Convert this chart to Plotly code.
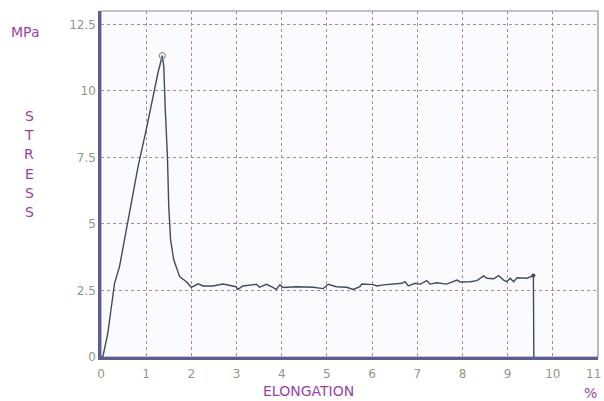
import plotly.graph_objects as go

elongation = [0.0, 0.04, 0.15, 0.23, 0.30, 0.41, 0.52, 0.59, 0.74, 0.82, 1.0, 1.15, 1.26, 1.357,
              1.39, 1.42, 1.47, 1.50, 1.54, 1.61, 1.74, 1.89, 2.0, 2.15, 2.26, 2.48, 2.70, 2.99,
              3.03, 3.14, 3.44, 3.51, 3.66, 3.77, 3.88, 3.96, 4.03, 4.33, 4.70, 4.92, 5.03, 5.21,
              5.44, 5.58, 5.73, 5.77, 6.03, 6.10, 6.25, 6.66, 6.73, 6.80, 6.95, 7.06, 7.21, 7.28,
              7.43, 7.65, 7.88, 7.95, 8.17, 8.32, 8.47, 8.54, 8.69, 8.80, 8.91, 8.98, 9.06, 9.13,
              9.21, 9.43, 9.57, 9.58]
stress = [0.0, 0.0, 0.89, 2.0, 2.77, 3.4, 4.4, 5.15, 6.53, 7.15, 8.53, 9.79, 10.67, 11.32,
          10.9, 9.4, 7.53, 5.65, 4.4, 3.65, 3.02, 2.83, 2.62, 2.75, 2.67, 2.67, 2.74, 2.64,
          2.54, 2.67, 2.73, 2.62, 2.73, 2.64, 2.54, 2.71, 2.61, 2.64, 2.62, 2.57, 2.73, 2.64,
          2.62, 2.54, 2.64, 2.74, 2.72, 2.67, 2.71, 2.77, 2.83, 2.67, 2.77, 2.73, 2.87, 2.74,
          2.79, 2.74, 2.89, 2.82, 2.83, 2.87, 3.05, 2.96, 2.94, 3.06, 2.89, 2.83, 2.96, 2.83,
          2.98, 2.96, 3.06, 0.0]

x_ticks = [0, 1, 2, 3, 4, 5, 6, 7, 8, 9, 10, 11]
y_ticks = [0, 2.5, 5, 7.5, 10, 12.5]
y_tick_text = ["0", "2.5", "5", "7.5", "10", "12.5"]

peak_i = stress.index(max(stress))
end_i = len(stress) - 2

FONT = "DejaVu Sans"
TICK_COLOR = "#8c9a86"
TITLE_COLOR = "#9a3fa6"
GRID_COLOR = "#a886a8"
AXIS_COLOR = "#5c5c96"
LINE_COLOR = "#3e4a66"

fig = go.Figure()
fig.add_trace(go.Scatter(x=elongation, y=stress, mode="lines",
                         line=dict(color=LINE_COLOR, width=1.4), showlegend=False,
                         hoverinfo="skip"))
fig.add_trace(go.Scatter(x=[elongation[peak_i]], y=[stress[peak_i]], mode="markers",
                         marker=dict(symbol="circle-open", size=6, color="#8a9a84",
                                     line=dict(width=1.2)), showlegend=False, hoverinfo="skip"))
fig.add_trace(go.Scatter(x=[elongation[end_i]], y=[stress[end_i]], mode="markers",
                         marker=dict(symbol="circle", size=4, color=LINE_COLOR), showlegend=False,
                         hoverinfo="skip"))

fig.update_xaxes(range=[0, 11], tickvals=x_ticks[:-1], ticks="", showline=True,
                 linecolor=AXIS_COLOR, linewidth=2.5, showgrid=True, gridcolor=GRID_COLOR,
                 griddash="dot", gridwidth=1, zeroline=False,
                 ticklabelstandoff=4, automargin=False,
                 tickfont=dict(family=FONT, size=12, color=TICK_COLOR))
fig.update_yaxes(range=[0, 13], tickvals=y_ticks, ticktext=y_tick_text, ticks="",
                 showline=True, linecolor=AXIS_COLOR, linewidth=2.5, showgrid=True,
                 gridcolor=GRID_COLOR, griddash="dot", gridwidth=1, zeroline=False,
                 automargin=False,
                 tickfont=dict(family=FONT, size=12, color=TICK_COLOR))

W, H = 604, 401
ml, mr, mt, mb = 101, 6, 11, 44
pw, ph = W - ml - mr, H - mt - mb
def px2paper(px, py):
    return (px - ml) / pw, (H - mb - py) / ph

TS = 14
annotations = []
# last x tick label, kept inside the window edge
lx11, ly11 = px2paper(603, 374)
annotations.append(dict(text=str(x_ticks[-1]), x=lx11, y=ly11, xref="paper", yref="paper",
                        showarrow=False, xanchor="right", yanchor="middle",
                        font=dict(family=FONT, size=12, color=TICK_COLOR)))
ex, ey = px2paper(308, 391)
annotations.append(dict(text="ELONGATION", x=ex, y=ey, xref="paper", yref="paper", showarrow=False,
                        xanchor="center", yanchor="middle",
                        font=dict(family=FONT, size=TS, color=TITLE_COLOR)))
px_, py_ = px2paper(590, 393)
annotations.append(dict(text="%", x=px_, y=py_, xref="paper", yref="paper", showarrow=False,
                        xanchor="center", yanchor="middle",
                        font=dict(family=FONT, size=TS, color=TITLE_COLOR)))
mx, my = px2paper(25, 32)
annotations.append(dict(text="MPa", x=mx, y=my, xref="paper", yref="paper", showarrow=False,
                        xanchor="center", yanchor="middle",
                        font=dict(family=FONT, size=TS, color=TITLE_COLOR)))
for i, ch in enumerate("STRESS"):
    lx, ly = px2paper(29, 116 + i * 19.2)
    annotations.append(dict(text=ch, x=lx, y=ly, xref="paper", yref="paper", showarrow=False,
                            xanchor="center", yanchor="middle",
                            font=dict(family=FONT, size=TS, color=TITLE_COLOR)))

fig.update_layout(
    width=W, height=H, margin=dict(l=ml, r=mr, t=mt, b=mb, autoexpand=False),
    paper_bgcolor="white", plot_bgcolor="#fbfbfe",
    annotations=annotations, hovermode=False,
    shapes=[dict(type="rect", xref="paper", yref="paper", x0=0, y0=0, x1=1, y1=1,
                 line=dict(color="#8a8a96", width=1.2), layer="below")],
)

fig.write_html("out.html", config={"displayModeBar": False},
               post_script="document.body.style.margin='0';document.body.style.overflow='hidden';")
